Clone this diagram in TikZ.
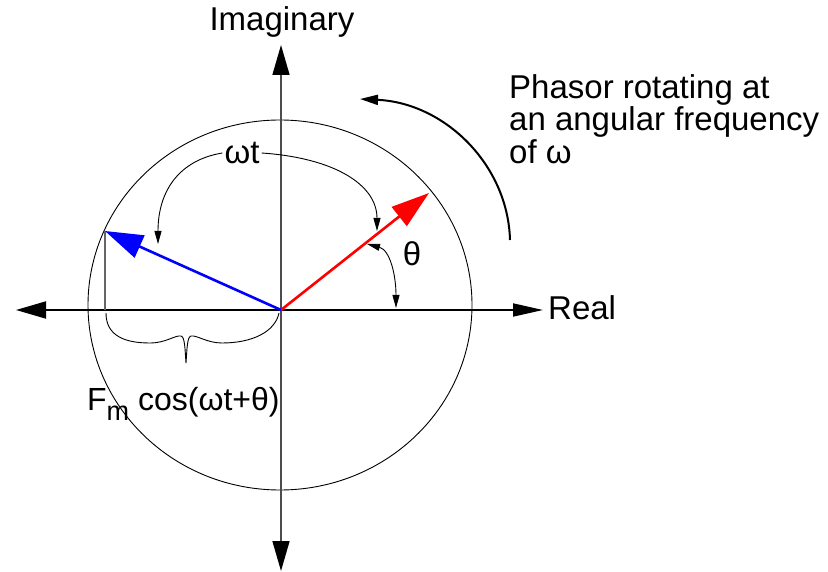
\documentclass[tikz,border=0pt]{standalone}
\usepackage{fontspec}
\setmainfont{Liberation Sans}
\usetikzlibrary{arrows.meta}

\begin{document}
\begin{tikzpicture}[
  x=1pt, y=-1pt,
  font=\fontsize{33}{32.5}\selectfont,
  reaxis/.style ={draw=black, line width=1.8pt,
                  {Triangle[length=30pt, width=17pt]}-{Triangle[length=30pt, width=13pt]}},
  imaxis/.style ={draw=black!70, line width=1.5pt,
                  {Triangle[length=30pt, width=17pt, color=black]}-{Triangle[length=30pt, width=17pt, color=black]}},
  ring/.style   ={draw=black, line width=0.9pt},
  phasor/.style ={line width=2.6pt, -{Triangle[length=38pt, width=24pt]}},
  proj/.style   ={draw=black!60, line width=1.2pt},
  brace/.style  ={draw=black, line width=0.9pt},
  thinarr/.style={draw=black, line width=0.9pt, -{Triangle[length=13pt, width=7pt]}},
  botharr/.style={draw=black, line width=0.9pt,
                  {Triangle[length=13pt, width=7pt]}-{Triangle[length=13pt, width=7pt]}},
  spin/.style   ={draw=black, line width=2pt, -{Triangle[length=18pt, width=10pt]}},
  lbl/.style    ={inner sep=2pt},
]
\useasboundingbox (0,0) rectangle (828,572);

% --- Axes ---
\coordinate (O)     at (281,310);
\coordinate (reL)   at (16,310);
\coordinate (reR)   at (543,310);
\coordinate (imTop) at (281,45);
\coordinate (imBot) at (281,571);
\draw[ring] (280,305) ellipse [x radius=192pt, y radius=185pt];
\draw[reaxis] (reL) -- (reR);
\draw[imaxis] (imBot) -- (imTop);

\node[lbl] (imag) at (282,22)  {Imaginary};
\node[lbl, anchor=west] (real) at (546,308) {Real};

% --- Phasors ---
\coordinate (rTip)  at (429,193);
\coordinate (bTip)  at (105,231);
\coordinate (bFoot) at (105,310);
\draw[proj] (bTip) -- (bFoot);
\draw[phasor, red]  (O) -- (rTip);
\draw[phasor, blue] (O) -- (bTip);

% --- Brace under the projection ---
\draw[brace] (106,313) .. controls (106,336) and (125,343) .. (150,343)
  .. controls (166,343) and (175,335) .. (181,336)
  .. controls (185,337) and (185,350) .. (186,363)
  .. controls (187,350) and (187,337) .. (191,336)
  .. controls (197,335) and (207,343) .. (222,343)
  .. controls (252,343) and (275,332) .. (279,313);
\node[lbl, anchor=base west, font=\fontsize{32}{32}\selectfont] (proj) at (85,410)
  {F\raisebox{-0.32em}{\fontsize{27}{27}\selectfont m} cos(ωt+θ)};

% --- Angle labels ---
\node[lbl] (wt) at (242,153) {ωt};
\draw[thinarr] (wt.west) .. controls (180,160) and (158,190) .. (158,244);
\draw[thinarr] (wt.east) .. controls (335,158) and (377,185) .. (377,231);
\node[lbl] (theta) at (412,254) {θ};
\draw[botharr] (367,244) .. controls (390,250) and (396,275) .. (396,308);

% --- Rotation ---
\draw[spin] (510,240) .. controls (508,165) and (445,103) .. (360,99);
\node[lbl, anchor=north west, align=left] (rot) at (507,72)
  {Phasor rotating at\\an angular frequency\\of ω};
\end{tikzpicture}
\end{document}
